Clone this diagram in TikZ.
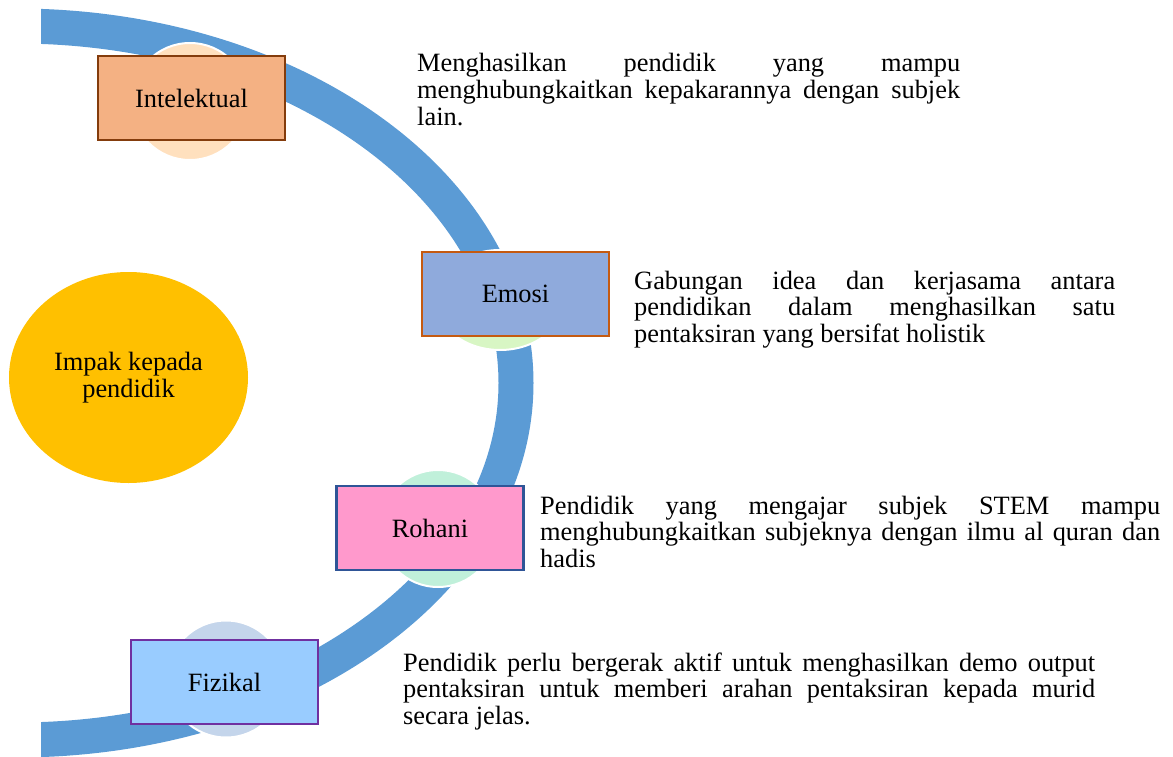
\documentclass[tikz,border=0pt]{standalone}
\usepackage{fontspec}
\setmainfont{Liberation Serif}
\usetikzlibrary{shapes.geometric}
\definecolor{bandblue}{HTML}{5B9BD5}
\definecolor{intfill}{HTML}{F4B183}
\definecolor{intdraw}{HTML}{843C0C}
\definecolor{emofill}{HTML}{8FAADC}
\definecolor{emodraw}{HTML}{C55A11}
\definecolor{rohfill}{HTML}{FF99CC}
\definecolor{rohdraw}{HTML}{2F5597}
\definecolor{fizfill}{HTML}{99CCFF}
\definecolor{fizdraw}{HTML}{7030A0}
\definecolor{c1}{HTML}{FFE0BE}
\definecolor{c2}{HTML}{D8F6C4}
\definecolor{c3}{HTML}{C0F0DA}
\definecolor{c4}{HTML}{C4D5EB}
\definecolor{impak}{HTML}{FFC000}
\newcommand{\jline}[1]{\makebox[\linewidth][s]{#1}}
\tikzset{
  txt/.style={font=\fontsize{26.4}{26.8}\selectfont},
  band/.style={draw=bandblue, line width=35pt},
  dot/.style={circle, draw=white, line width=2pt, minimum size=117pt, inner sep=0pt},
  catbox/.style={rectangle, line width=2.5pt, minimum width=187pt, minimum height=84pt, inner sep=0pt, txt},
  desc/.style={anchor=base west, inner sep=0pt, txt}
}
\begin{document}
\begin{tikzpicture}[x=1pt,y=-1pt]
\useasboundingbox (0,0) rectangle (1173,757);
\begin{scope}
  \clip (41,0) rectangle (1173,757);
  \draw[band] (16,383) ellipse [x radius=500, y radius=357];
\end{scope}
\node[dot, fill=c1] (k1) at (190,101.5) {};
\node[ellipse, draw=white, line width=2pt, inner sep=0pt, fill=c2, minimum width=128pt, minimum height=100pt] (k2) at (500,300) {};
\node[dot, fill=c3] (k3) at (438,528.5) {};
\node[dot, fill=c4] (k4) at (226,679) {};
\node[catbox, fill=intfill, draw=intdraw] (b1) at (191.5,98) {Intelektual};
\node[catbox, fill=emofill, draw=emodraw] (b2) at (515.5,294) {Emosi};
\node[catbox, fill=rohfill, draw=rohdraw] (b3) at (430,528) {Rohani};
\node[catbox, fill=fizfill, draw=fizdraw] (b4) at (224.5,682) {Fizikal};
\node[ellipse, fill=impak, minimum width=239pt, minimum height=211pt, inner sep=0pt, align=center, txt] (imp) at (128.5,377.5) {Impak kepada\\pendidik};
\node[desc] (t1) at (417,72) {\parbox[t]{543pt}{\setlength{\parindent}{0pt}\fontsize{26.4}{26.8}\selectfont
\jline{Menghasilkan pendidik yang mampu}\\
\jline{menghubungkaitkan kepakarannya dengan subjek}\\
lain.}};
\node[desc] (t2) at (634,289) {\parbox[t]{481pt}{\setlength{\parindent}{0pt}\fontsize{26.4}{26.8}\selectfont
\jline{Gabungan idea dan kerjasama antara}\\
\jline{pendidikan dalam menghasilkan satu}\\
pentaksiran yang bersifat holistik}};
\node[desc] (t3) at (540,514) {\parbox[t]{620pt}{\setlength{\parindent}{0pt}\fontsize{26.4}{26.8}\selectfont
\jline{Pendidik yang mengajar subjek STEM mampu}\\
\jline{menghubungkaitkan subjeknya dengan ilmu al quran dan}\\
hadis}};
\node[desc] (t4) at (403,671) {\parbox[t]{692pt}{\setlength{\parindent}{0pt}\fontsize{26.4}{26.8}\selectfont
\jline{Pendidik perlu bergerak aktif untuk menghasilkan demo output}\\
\jline{pentaksiran untuk memberi arahan pentaksiran kepada murid}\\
secara jelas.}};
\end{tikzpicture}
\end{document}
